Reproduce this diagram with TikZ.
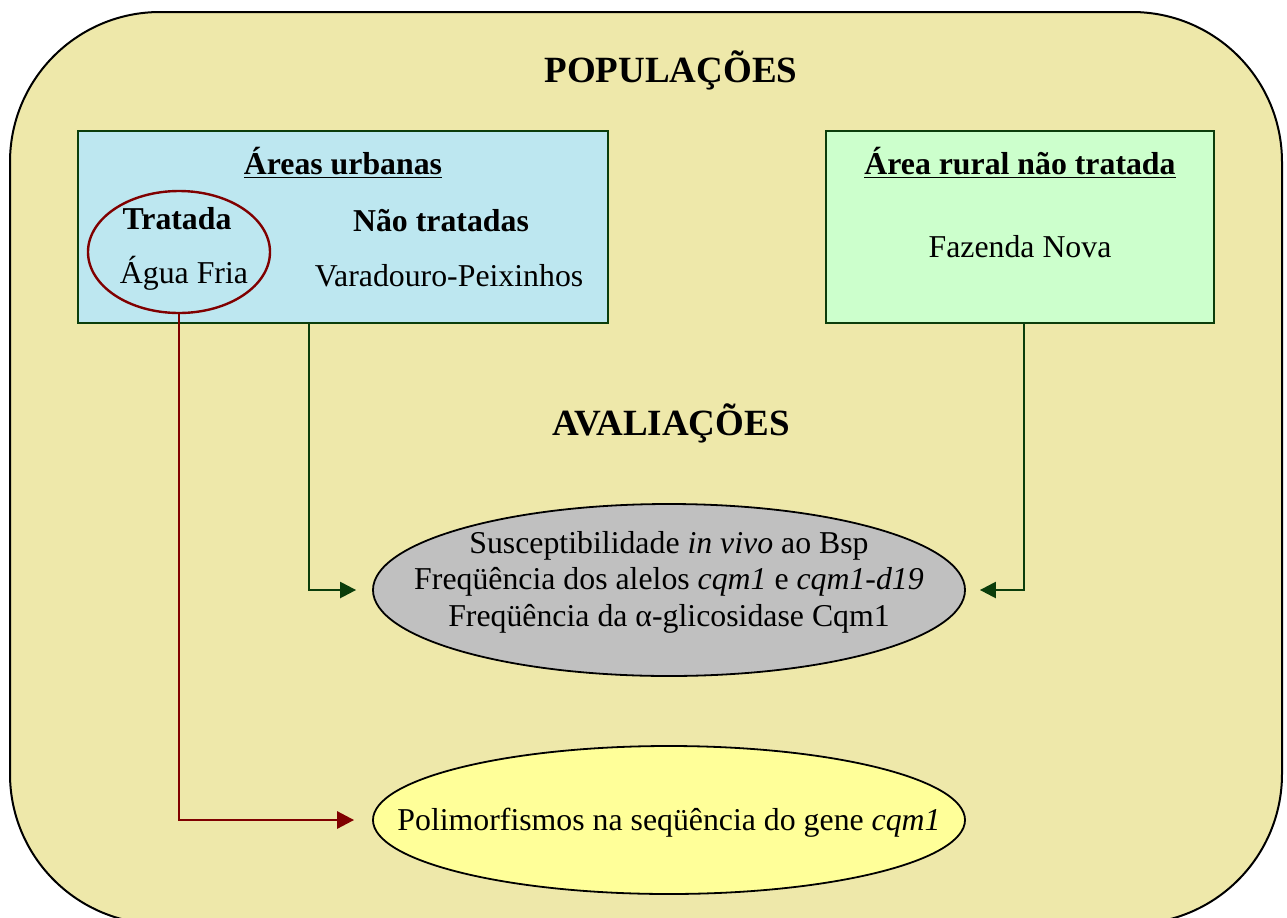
\documentclass[tikz,border=0pt]{standalone}
\usepackage{fontspec}
\setmainfont{Liberation Serif}
\usetikzlibrary{shapes.geometric,arrows.meta}
\definecolor{bgyellow}{HTML}{EEE8AA}
\definecolor{boxblue}{HTML}{BDE7F0}
\definecolor{boxgreen}{HTML}{CCFFCC}
\definecolor{ellgray}{HTML}{C0C0C0}
\definecolor{ellyellow}{HTML}{FFFF99}
\definecolor{dkgreen}{HTML}{0B3D0B}
\definecolor{dkred}{HTML}{800000}
\tikzset{
  body/.style={font=\fontsize{15.9}{18.2}\selectfont, inner sep=0pt, align=center},
  title/.style={font=\fontsize{18.5}{22}\selectfont\bfseries, inner sep=0pt},
  popbox/.style={draw=dkgreen, line width=1.4pt, inner sep=0pt},
  evalell/.style={ellipse, draw=black, line width=0.9pt, inner sep=0pt},
  grconn/.style={draw=dkgreen, line width=1.2pt, -{Triangle[length=8pt,width=8pt]}},
  rdconn/.style={draw=dkred, line width=1.4pt, -{Triangle[length=8.5pt,width=8.5pt]}},
}
\begin{document}
\begin{tikzpicture}[x=0.5pt,y=-0.5pt]
\clip (0,0) rectangle (1287,917);
\draw[fill=bgyellow, draw=black, line width=1pt, rounded corners=75pt] (10,12) rectangle (1282,924);
\node[title] (pop) at (671,70) {POPULAÇÕES};
\node[title] (aval) at (671,423) {AVALIAÇÕES};
% boxes
\node[popbox, fill=boxblue, minimum width=265pt, minimum height=96pt] (blue) at (343,227) {};
\node[popbox, fill=boxgreen, minimum width=194pt, minimum height=96pt] (green) at (1020,227) {};
\node[body, font=\fontsize{15.9}{18}\selectfont\bfseries] (urb) at (343,163) {\underline{Áreas urbanas}};
\node[draw=dkred, line width=1.2pt, ellipse, minimum width=91pt, minimum height=61pt, inner sep=0pt] (trat) at (179,252) {};
\node[body, font=\fontsize{15.9}{18}\selectfont\bfseries] (tratlbl) at (177,219) {Tratada};
\node[body] (agua) at (184,273) {Água Fria};
\node[body, font=\fontsize{15.9}{18}\selectfont\bfseries] (nt) at (441,221) {Não tratadas};
\node[body] (vp) at (449,276) {Varadouro-Peixinhos};
\node[body, font=\fontsize{15.9}{18}\selectfont\bfseries] (rur) at (1020,163) {\underline{Área rural não tratada}};
\node[body] (fn) at (1020,247) {Fazenda Nova};
% evaluations
\node[evalell, fill=ellgray, minimum width=296pt, minimum height=86pt] (gray) at (669,590) {};
\node[body] (graytxt) at (669,582)
  {Susceptibilidade \textit{in vivo} ao Bsp\\Freqüência dos alelos \textit{cqm1} e \textit{cqm1-d19}\\Freqüência da α-glicosidase Cqm1};
\node[evalell, fill=ellyellow, minimum width=296pt, minimum height=74pt] (yell) at (669,820) {};
\node[body] (yelltxt) at (669,823) {Polimorfismos na seqüência do gene \textit{cqm1}};
% connectors
\coordinate (a1) at (309,323);
\coordinate (b1) at (1024,323);
\draw[grconn, shorten >=8pt] (a1) |- (gray.west);
\draw[grconn, shorten >=7pt] (b1) |- (gray.east);
\draw[rdconn, shorten >=9pt] (trat.south) |- (yell.west);
\end{tikzpicture}
\end{document}
